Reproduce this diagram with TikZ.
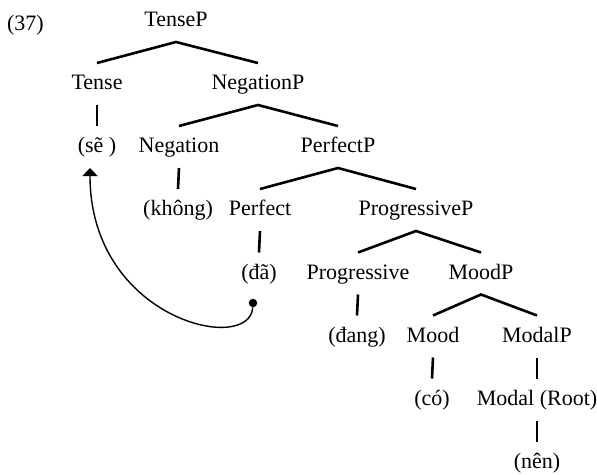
\documentclass[tikz,border=0pt]{standalone}
\usepackage{fontspec}
\setmainfont{Liberation Serif}
\usetikzlibrary{arrows.meta}
\begin{document}
\begin{tikzpicture}[x=1pt,y=-1pt,
  lbl/.style={inner sep=0pt, outer xsep=0pt, outer ysep=10pt,
    text height=16.5pt, text depth=5.5pt, anchor=base,
    font=\fontsize{22}{26}\selectfont},
  edge/.style={line width=2.6pt},
  move/.style={line width=1.4pt, -{Triangle[width=15pt,length=8pt]}},
  trace/.style={circle, fill, inner sep=0pt, minimum size=8.5pt}]
\useasboundingbox (0,0) rectangle (597,474);

% example number
\node[lbl, anchor=base west] (ex) at (7,30.5) {(37)};

% tree labels, row by row
\node[lbl] (TP)     at (176,26.5)  {TenseP};
\node[lbl] (T)      at (97,89.5)   {Tense};
\node[lbl] (NegP)   at (258,89.5)  {NegationP};
\node[lbl] (se)     at (97,152.5)  {(sẽ )};
\node[lbl] (Neg)    at (179,152.5) {Negation};
\node[lbl] (PerfP)  at (338,152.5) {PerfectP};
\node[lbl] (khong)  at (178,215.5) {(không)};
\node[lbl] (Perf)   at (260,215.5) {Perfect};
\node[lbl] (ProgP)  at (416,215.5) {ProgressiveP};
\node[lbl] (da)     at (259,279)   {(đã)};
\node[lbl] (Prog)   at (358,279)   {Progressive};
\node[lbl] (MoodP)  at (481,279)   {MoodP};
\node[lbl] (dang)   at (357,342)   {(đang)};
\node[lbl] (Mood)   at (433,342)   {Mood};
\node[lbl] (ModalP) at (537,342)   {ModalP};
\node[lbl] (co)     at (432,405)   {(có)};
\node[lbl] (Modal)  at (537,405)   {Modal (Root)};
\node[lbl] (nen)    at (537,468.5) {(nên)};

% branches
\draw[edge] (T.north) -- (TP.south) -- (NegP.north);
\draw[edge] (T.south) -- (se.north);
\draw[edge] (Neg.north) -- (NegP.south) -- (PerfP.north);
\draw[edge] (Neg.south) -- (khong.north);
\draw[edge] (Perf.north) -- (PerfP.south) -- (ProgP.north);
\draw[edge] (Perf.south) -- (da.north);
\draw[edge] (Prog.north) -- (ProgP.south) -- (MoodP.north);
\draw[edge] (Prog.south) -- (dang.north);
\draw[edge] (Mood.north) -- (MoodP.south) -- (ModalP.north);
\draw[edge] (Mood.south) -- (co.north);
\draw[edge] (ModalP.south) -- (Modal.north);
\draw[edge] (Modal.south) -- (nen.north);

% movement of the tense marker
\node[trace] (dot) at (253,303) {};
\coordinate (tip) at ([xshift=-7pt]se.south);
\draw[move] (dot) .. controls (250,355) and (90,320) .. (tip);
\end{tikzpicture}
\end{document}
